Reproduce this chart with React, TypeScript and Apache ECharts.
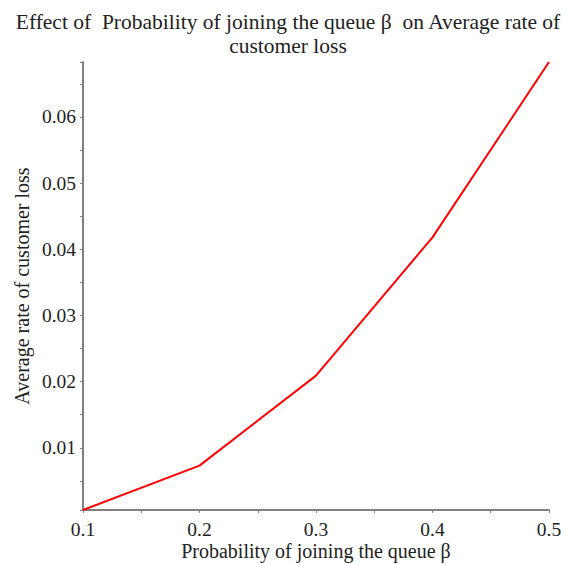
import React, { useEffect, useRef } from "react";
import * as echarts from "echarts";

const betaValues = [0.1, 0.2, 0.3, 0.4, 0.5];
const lossRates = [0.0006, 0.0073, 0.0209, 0.0418, 0.0683];
const titleText = "Effect of  Probability of joining the queue \u03b2  on Average rate of\ncustomer loss";
const xName = "Probability of joining the queue \u03b2";
const yName = "Average rate of customer loss";

const FONT = "Liberation Serif";

export default function App() {
  const ref = useRef<HTMLDivElement>(null);
  useEffect(() => {
    document.body.style.margin = "0";
    if (!ref.current) return;
    const chart = echarts.init(ref.current, undefined, { renderer: "svg" });
    const axisColor = "#808080";
    chart.setOption({
      animation: false,
      title: {
        text: titleText,
        left: 288,
        textAlign: "center",
        top: 10,
        padding: 0,
        textStyle: { fontFamily: FONT, fontSize: 21.5, fontWeight: "normal", color: "#222", lineHeight: 24 },
      },
      grid: { left: 83, right: 19, top: 62, bottom: 54, outerBoundsMode: "none" },
      xAxis: {
        type: "value",
        min: 0.1,
        max: 0.5,
        interval: 0.1,
        name: xName,
        nameLocation: "middle",
        nameGap: 31,
        nameMoveOverlap: false,
        nameTextStyle: { fontFamily: FONT, fontSize: 20, color: "#222" },
        axisLine: { show: true, onZero: false, lineStyle: { color: axisColor, width: 2 } },
        axisTick: { show: true, length: 3, lineStyle: { color: axisColor } },
        minorTick: { show: true, splitNumber: 2, length: 3, lineStyle: { color: axisColor } },
        splitLine: { show: false },
        axisLabel: {
          fontFamily: FONT,
          fontSize: 19.5,
          color: "#222",
          margin: 9,
          formatter: (v: number) => String(Math.round(v * 10) / 10),
        },
      },
      yAxis: {
        type: "value",
        min: "dataMin",
        max: "dataMax",
        name: yName,
        nameLocation: "middle",
        nameGap: 51,
        nameMoveOverlap: false,
        nameTextStyle: { fontFamily: FONT, fontSize: 20, color: "#222" },
        axisLine: { show: true, onZero: false, lineStyle: { color: axisColor, width: 2 } },
        axisTick: { show: true, length: 3, lineStyle: { color: axisColor } },
        minorTick: { show: true, splitNumber: 2, length: 3, lineStyle: { color: axisColor } },
        splitLine: { show: false },
        axisLabel: {
          fontFamily: FONT,
          fontSize: 19.5,
          color: "#222",
          margin: 7,
          showMinLabel: false,
          showMaxLabel: false,
          formatter: (v: number) => String(Math.round(v * 100) / 100),
        },
      },
      series: [
        {
          type: "line",
          data: betaValues.map((b, i) => [b, lossRates[i]]),
          showSymbol: false,
          lineStyle: { color: "#ff0000", width: 2 },
          itemStyle: { color: "#ff0000" },
        },
      ],
    });
    return () => chart.dispose();
  }, []);
  return <div ref={ref} style={{ width: 568, height: 564 }} />;
}
